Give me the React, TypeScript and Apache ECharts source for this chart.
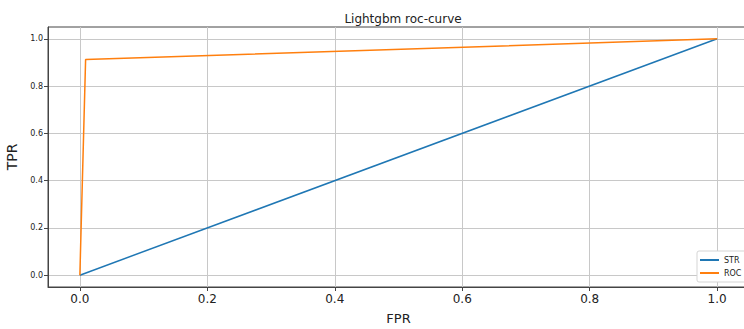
import React, { useEffect, useRef } from "react";
import * as echarts from "echarts";

const strX = [0, 1];
const strY = [0, 1];
const rocX = [0, 0.009, 1];
const rocY = [0, 0.912, 1];
const tickValues = [0, 0.2, 0.4, 0.6, 0.8, 1.0];

export default function App() {
  const ref = useRef<HTMLDivElement>(null);
  useEffect(() => {
    document.body.style.margin = "0";
    const chart = echarts.init(ref.current!, null, { renderer: "svg" });
    const font = "DejaVu Sans";
    chart.setOption({
      animation: false,
      backgroundColor: "#ffffff",
      title: {
        text: "Lightgbm roc-curve",
        left: 398,
        top: 8,
        textAlign: "center",
        textStyle: { fontFamily: font, fontSize: 12, fontWeight: "normal", color: "#222" },
      },
      grid: {
        left: 48,
        top: 27,
        width: 701,
        height: 260,
        containLabel: false,
        outerBoundsMode: "none",
        show: true,
        borderColor: "#444",
        borderWidth: 1,
        backgroundColor: "transparent",
      },
      xAxis: {
        type: "value",
        min: -0.05,
        max: 1.05,
        name: "FPR",
        nameLocation: "middle",
        nameGap: 25,
        nameTextStyle: { fontFamily: font, fontSize: 13, color: "#222" },
        axisLine: { show: true, onZero: false, lineStyle: { color: "#444", width: 1 } },
        axisTick: { show: true, inside: false, length: 4, customValues: tickValues, lineStyle: { color: "#444" } },
        axisLabel: {
          customValues: tickValues,
          fontFamily: font,
          fontSize: 12,
          color: "#222",
          margin: 6,
          formatter: (v: number) => v.toFixed(1),
        },
        splitLine: { show: true, lineStyle: { color: "#c8c8c8", width: 1 } },
      },
      yAxis: {
        type: "value",
        min: -0.05,
        max: 1.05,
        name: "TPR",
        nameLocation: "middle",
        nameGap: 21,
        nameTextStyle: { fontFamily: font, fontSize: 14, color: "#222" },
        axisLine: { show: true, onZero: false, lineStyle: { color: "#444", width: 1 } },
        axisTick: { show: true, inside: false, length: 4, customValues: tickValues, lineStyle: { color: "#444" } },
        axisLabel: {
          customValues: tickValues,
          fontFamily: font,
          fontSize: 8,
          color: "#222",
          margin: 5,
          formatter: (v: number) => v.toFixed(1),
        },
        splitLine: { show: true, lineStyle: { color: "#c8c8c8", width: 1 } },
      },
      legend: {
        orient: "vertical",
        left: 697,
        top: 251,
        padding: [5, 6, 5, 3],
        itemGap: 5,
        itemWidth: 19,
        itemHeight: 2,
        icon: "rect",
        backgroundColor: "#ffffff",
        borderColor: "#d5d5d5",
        borderWidth: 1,
        borderRadius: 2,
        textStyle: { fontFamily: font, fontSize: 8, color: "#222" },
        data: ["STR", "ROC"],
      },
      series: [
        {
          name: "STR",
          type: "line",
          data: strX.map((x, i) => [x, strY[i]]),
          showSymbol: false,
          symbol: "none",
          lineStyle: { color: "#1f77b4", width: 1.5 },
          itemStyle: { color: "#1f77b4" },
        },
        {
          name: "ROC",
          type: "line",
          data: rocX.map((x, i) => [x, rocY[i]]),
          showSymbol: false,
          symbol: "none",
          lineStyle: { color: "#ff7f0e", width: 1.5 },
          itemStyle: { color: "#ff7f0e" },
        },
      ],
    });
    return () => chart.dispose();
  }, []);
  return <div ref={ref} style={{ position: "absolute", left: 0, top: 0, width: 744, height: 329 }} />;
}
